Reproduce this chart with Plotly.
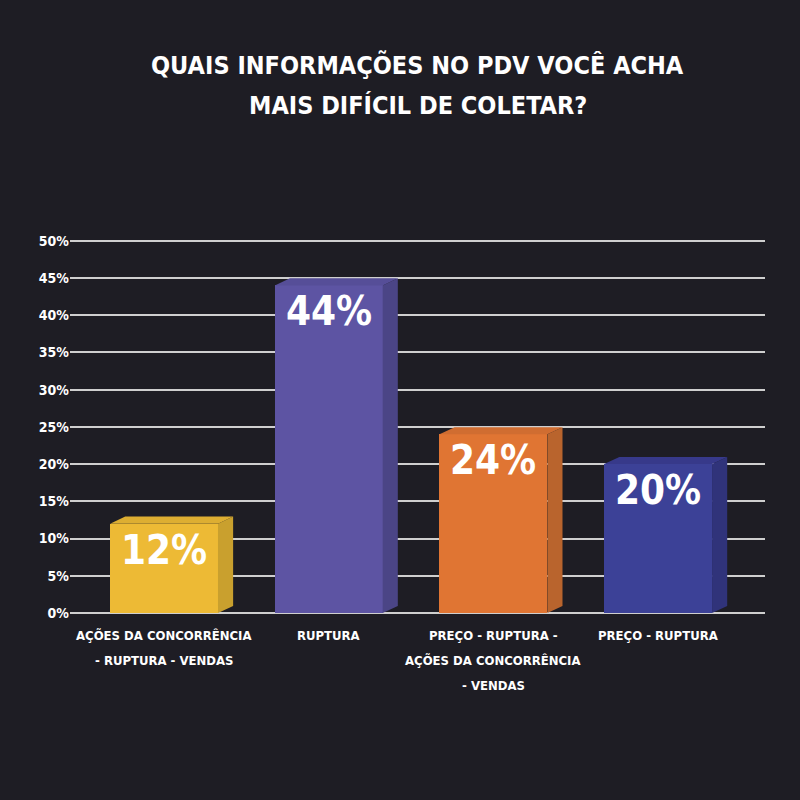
import plotly.graph_objects as go

category_lines = [["AÇÕES DA CONCORRÊNCIA", "- RUPTURA - VENDAS"],
                  ["RUPTURA"],
                  ["PREÇO - RUPTURA -", "AÇÕES DA CONCORRÊNCIA", "- VENDAS"],
                  ["PREÇO - RUPTURA"]]
values = [12, 44, 24, 20]
value_labels = ["12%", "44%", "24%", "20%"]
y_tick_values = [0, 5, 10, 15, 20, 25, 30, 35, 40, 45, 50]
y_tick_labels = ["0%", "5%", "10%", "15%", "20%", "25%", "30%", "35%", "40%", "45%", "50%"]
title_lines = ["QUAIS INFORMAÇÕES NO PDV VOCÊ ACHA", "MAIS DIFÍCIL DE COLETAR?"]
front_colors = ["#EDBA35", "#5D54A3", "#E07533", "#3C4197"]
side_colors = ["#C9A02E", "#4B4586", "#B9642D", "#30337A"]
top_colors = ["#DDAE32", "#564E98", "#D06D31", "#37398A"]

FONT = "DejaVu Sans Condensed, DejaVu Sans"
BG = "#1E1D24"

W = 0.655   # bar width (x units)
DX = 0.092  # depth offset x
DY = 0.95   # depth offset y (%)

def f(size):
    return dict(family=FONT, size=size, color="white", weight="bold")

xs = list(range(len(values)))
fig = go.Figure()

for i, v in enumerate(values):
    x0, x1 = xs[i] - W / 2, xs[i] + W / 2
    fig.add_trace(go.Scatter(
        x=[x1, x1 + DX, x1 + DX, x1, x1], y=[0, DY, v + DY, v, 0],
        mode="lines", fill="toself", fillcolor=side_colors[i],
        line=dict(width=0), hoverinfo="skip", showlegend=False))
    fig.add_trace(go.Scatter(
        x=[x0, x1, x1 + DX, x0 + DX, x0], y=[v, v, v + DY, v + DY, v],
        mode="lines", fill="toself", fillcolor=top_colors[i],
        line=dict(width=0), hoverinfo="skip", showlegend=False))

fig.add_trace(go.Bar(
    x=xs, y=values, width=W, marker=dict(color=front_colors, line=dict(width=0)),
    text=value_labels, textposition="inside", insidetextanchor="end",
    textfont=f(40), textangle=0, showlegend=False, hoverinfo="skip"))

annotations = []
for i, lines in enumerate(category_lines):
    for j, line in enumerate(lines):
        annotations.append(dict(
            x=xs[i], y=0, xref="x", yref="paper", text=line, showarrow=False,
            xanchor="center", yanchor="middle", yshift=-(22 + 25 * j), font=f(13)))
for j, line in enumerate(title_lines):
    annotations.append(dict(
        x=0.5, y=1, xref="paper", yref="paper", text=line, showarrow=False,
        xanchor="center", yanchor="middle", yshift=(237 - 65) - 40 * j, font=f(25)))

fig.update_layout(
    width=800, height=800,
    paper_bgcolor=BG, plot_bgcolor=BG,
    margin=dict(l=70, r=35, t=237, b=187),
    annotations=annotations,
    xaxis=dict(range=[-0.571, 3.649], showticklabels=False,
               showgrid=False, zeroline=False, showline=False, ticks="",
               automargin=False),
    yaxis=dict(range=[0, 50.5], tickmode="array", tickvals=y_tick_values,
               ticktext=y_tick_labels, showgrid=True,
               gridcolor="#CFCFCF", gridwidth=1.5, zeroline=True, zerolinecolor="#CFCFCF",
               zerolinewidth=1.5, showline=False, ticks="", automargin=False, tickfont=f(14)),
    bargap=0,
)

post = ("document.body.style.margin='0';document.body.style.background='#1E1D24';"
        "var s=document.createElement('style');"
        "s.textContent='svg text{font-stretch:condensed !important;}';"
        "document.head.appendChild(s);")
fig.write_html("out.html", post_script=post, config={"displayModeBar": False})
